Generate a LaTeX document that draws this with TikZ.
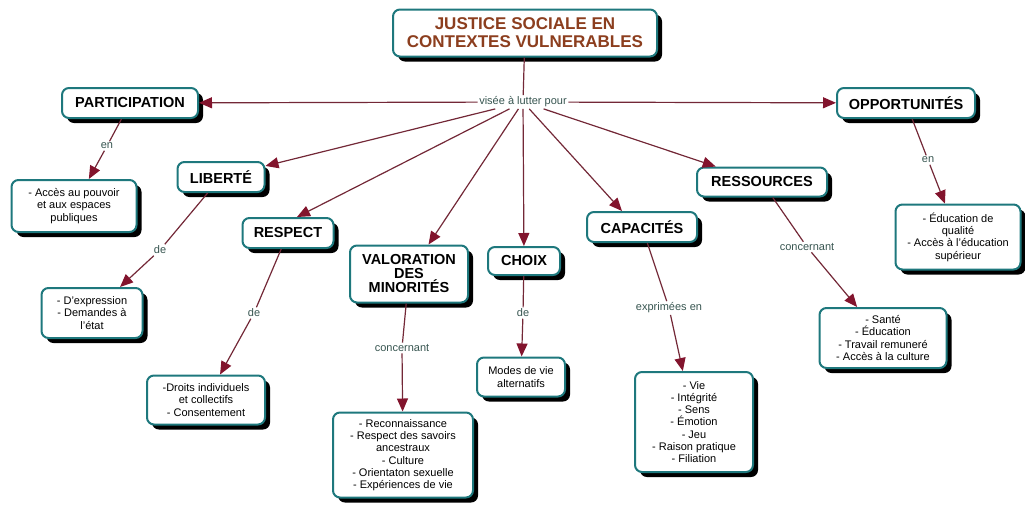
\documentclass[tikz,border=0pt]{standalone}
\usepackage{fontspec}
\setmainfont{Liberation Sans}
\usetikzlibrary{arrows.meta,shadows}
\definecolor{boxborder}{RGB}{30,120,125}
\definecolor{titlecol}{RGB}{140,62,30}
\definecolor{linecol}{RGB}{115,40,55}
\definecolor{arrowcol}{RGB}{130,20,45}
\definecolor{labcol}{RGB}{55,85,80}
\tikzset{
  cbox/.style={draw=boxborder, line width=2pt, fill=white, rounded corners=7pt,
    drop shadow={shadow xshift=5pt, shadow yshift=-5pt, fill=black, opacity=1},
    align=center, inner sep=2pt},
  concept/.style={cbox, font=\fontsize{14.5}{14}\selectfont\bfseries},
  leaf/.style={cbox, font=\fontsize{11}{12.3}\selectfont},
  titlebox/.style={cbox, font=\fontsize{17}{18}\selectfont\bfseries, text=titlecol},
  linklab/.style={font=\fontsize{11}{13}\selectfont, text=labcol, inner sep=1.5pt},
  conn/.style={draw=linecol, line width=1.2pt},
  arr/.style={conn, -{Triangle[length=13pt,width=11pt,color=arrowcol,fill=arrowcol]}},
}
\begin{document}
\begin{tikzpicture}[x=1pt,y=-1pt]
\useasboundingbox (0,0) rectangle (1025,504);
% title and hub
\node[titlebox, minimum width=264pt, minimum height=47pt] (title) at (525,33) {JUSTICE SOCIALE EN\\CONTEXTES VULNERABLES};
\node[linklab] (hub) at (523,102) {visée à lutter pour};
% concepts
\node[concept, minimum width=136pt, minimum height=30pt] (part) at (130,103) {PARTICIPATION};
\node[concept, minimum width=87pt, minimum height=30pt] (lib) at (221,177) {LIBERTÉ};
\node[concept, minimum width=91pt, minimum height=30pt] (resp) at (288,233) {RESPECT};
\node[concept, minimum width=118pt, minimum height=57pt] (val) at (409,274) {VALORATION\\DES\\MINORITÉS};
\node[concept, minimum width=72pt, minimum height=28pt] (choix) at (524,261) {CHOIX};
\node[concept, minimum width=110pt, minimum height=30pt] (cap) at (642,227) {CAPACITÉS};
\node[concept, minimum width=130pt, minimum height=29pt] (ress) at (762,182) {RESSOURCES};
\node[concept, minimum width=138pt, minimum height=30pt] (opp) at (906,103) {OPPORTUNITÉS};
% leaves
\node[leaf, minimum width=125pt, minimum height=52pt] (partL) at (74,206) {- Accès au pouvoir\\et aux espaces\\publiques};
\node[leaf, minimum width=101pt, minimum height=50pt] (libL) at (92,313) {- D'expression\\- Demandes à\\l'état};
\node[leaf, minimum width=118pt, minimum height=49pt] (respL) at (206,400) {-Droits individuels\\et collectifs\\- Consentement};
\node[leaf, minimum width=140pt, minimum height=85pt] (valL) at (403,455) {- Reconnaissance\\- Respect des savoirs\\ancestraux\\- Culture\\- Orientaton sexuelle\\- Expériences de vie};
\node[leaf, minimum width=88pt, minimum height=39pt] (choixL) at (521,377) {Modes de vie\\alternatifs};
\node[leaf, minimum width=118pt, minimum height=100pt] (capL) at (694,422) {- Vie\\- Intégrité\\- Sens\\- Émotion\\- Jeu\\- Raison pratique\\- Filiation};
\node[leaf, minimum width=127pt, minimum height=60pt] (ressL) at (883,338) {- Santé\\- Éducation\\- Travail remuneré\\- Accès à la culture};
\node[leaf, minimum width=125pt, minimum height=65pt] (oppL) at (958,237) {- Éducation de\\qualité\\- Accès à l'éducation\\supérieur};
% link labels
\node[linklab] (l1) at (107,146) {en};
\node[linklab] (l2) at (160,250) {de};
\node[linklab] (l3) at (254,313) {de};
\node[linklab] (l4) at (402,348) {concernant};
\node[linklab] (l5) at (523,313) {de};
\node[linklab] (l6) at (669,308) {exprimées en};
\node[linklab] (l7) at (807,247) {concernant};
\node[linklab] (l8) at (928,160) {en};
% connectors
\draw[conn] (title) -- (hub);
\draw[arr] (hub) -- (part);
\draw[arr] (hub) -- (opp);
\draw[arr] (hub) -- (lib);
\draw[arr] (hub) -- ([xshift=9pt]resp.north);
\draw[arr] (hub) -- (val);
\draw[arr] (hub) -- (choix);
\draw[arr] (hub) -- ([xshift=-20pt]cap.north);
\draw[arr] (hub) -- (ress);
\draw[conn] (part) -- (l1); \draw[arr] (l1) -- (partL);
\draw[conn] (lib) -- (l2); \draw[arr] (l2) -- (libL);
\draw[conn] (resp) -- (l3); \draw[arr] (l3) -- (respL);
\draw[conn] (val) -- (l4); \draw[arr] (l4) -- (valL);
\draw[conn] (choix) -- (l5); \draw[arr] (l5) -- (choixL);
\draw[conn] (cap) -- (l6); \draw[arr] (l6) -- (capL);
\draw[conn] (ress) -- (l7); \draw[arr] (l7) -- (ressL);
\draw[conn] (opp) -- (l8); \draw[arr] (l8) -- (oppL);
\end{tikzpicture}
\end{document}
